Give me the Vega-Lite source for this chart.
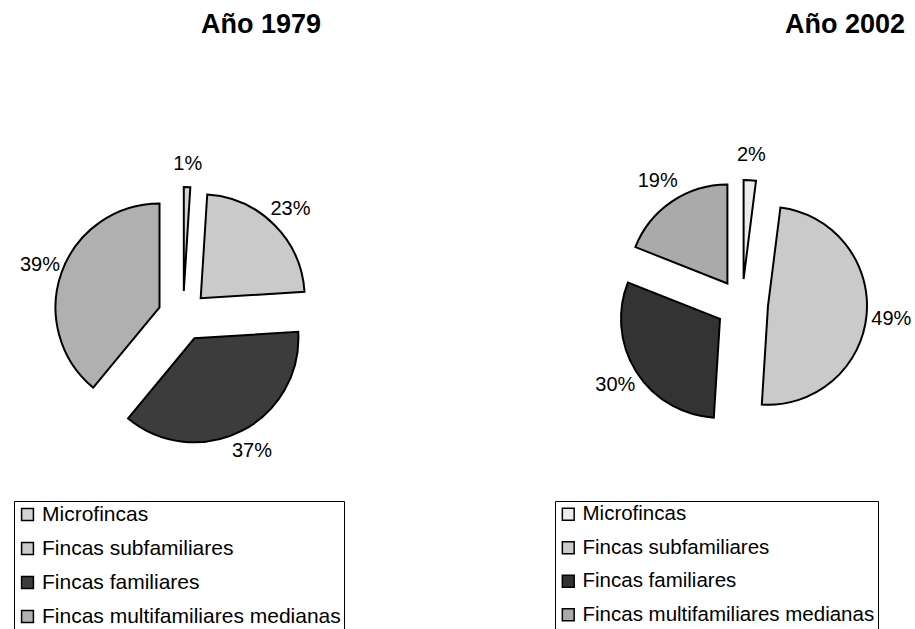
{
  "$schema": "https://vega.github.io/schema/vega-lite/v6.json",
  "padding": {"left": 13, "top": 11, "right": 0, "bottom": 0},
  "background": "white",
  "data": {
    "values": [
      {"anio": "1979", "cat": "Microfincas", "pct": 1, "etiqueta": "1%", "orden": 1},
      {"anio": "1979", "cat": "Fincas subfamiliares", "pct": 23, "etiqueta": "23%", "orden": 2},
      {"anio": "1979", "cat": "Fincas familiares", "pct": 37, "etiqueta": "37%", "orden": 3},
      {"anio": "1979", "cat": "Fincas multifamiliares medianas", "pct": 39, "etiqueta": "39%", "orden": 4},
      {"anio": "2002", "cat": "Microfincas", "pct": 2, "etiqueta": "2%", "orden": 1},
      {"anio": "2002", "cat": "Fincas subfamiliares", "pct": 49, "etiqueta": "49%", "orden": 2},
      {"anio": "2002", "cat": "Fincas familiares", "pct": 30, "etiqueta": "30%", "orden": 3},
      {"anio": "2002", "cat": "Fincas multifamiliares medianas", "pct": 19, "etiqueta": "19%", "orden": 4}
    ]
  },
  "spacing": 202,
  "resolve": {"scale": {"color": "independent", "theta": "independent"}, "legend": {"color": "independent"}},
  "hconcat": [
    {
      "width": 338,
      "height": 512,
      "title": {"text": "Año 1979", "dx": 78, "anchor": "middle"},
      "transform": [
        {"filter": "datum.anio == '1979'"},
        {"stack": "pct", "groupby": ["anio"], "sort": [{"field": "orden", "order": "ascending"}], "as": ["s0", "s1"]}
      ],
      "encoding": {
        "color": {
          "field": "cat",
          "type": "nominal",
          "scale": {
            "domain": ["Microfincas", "Fincas subfamiliares", "Fincas familiares", "Fincas multifamiliares medianas"],
            "range": ["#d4d4d4", "#cacaca", "#3c3c3c", "#b0b0b0"]
          },
          "legend": {
            "orient": "none", "legendX": 0, "legendY": 441, "title": null,
            "symbolType": "square", "symbolSize": 140, "symbolStrokeColor": "black", "symbolStrokeWidth": 1.5,
            "labelFontSize": 21, "labelFont": "Liberation Sans", "labelColor": "black", "labelOffset": 4,
            "labelLimit": 0, "rowPadding": 12, "padding": 3, "strokeColor": "black", "fillColor": "white"
          }
        }
      },
      "layer": [
        {
          "transform": [{"filter": "datum.orden == 1"}],
          "mark": {"type": "arc", "outerRadius": 104, "stroke": "black", "strokeWidth": 2, "xOffset": 0.8, "yOffset": -25},
          "encoding": {
            "theta": {"field": "s0", "type": "quantitative", "scale": {"domain": [0, 100]}},
            "theta2": {"field": "s1"}
          }
        },
        {
          "transform": [{"filter": "datum.orden == 2"}],
          "mark": {"type": "arc", "outerRadius": 104, "stroke": "black", "strokeWidth": 2, "xOffset": 17.7, "yOffset": -17.7},
          "encoding": {
            "theta": {"field": "s0", "type": "quantitative", "scale": {"domain": [0, 100]}},
            "theta2": {"field": "s1"}
          }
        },
        {
          "transform": [{"filter": "datum.orden == 3"}],
          "mark": {"type": "arc", "outerRadius": 104, "stroke": "black", "strokeWidth": 2, "xOffset": 11.4, "yOffset": 22.3},
          "encoding": {
            "theta": {"field": "s0", "type": "quantitative", "scale": {"domain": [0, 100]}},
            "theta2": {"field": "s1"}
          }
        },
        {
          "transform": [{"filter": "datum.orden == 4"}],
          "mark": {"type": "arc", "outerRadius": 104, "stroke": "black", "strokeWidth": 2, "xOffset": -23.5, "yOffset": -8.5},
          "encoding": {
            "theta": {"field": "s0", "type": "quantitative", "scale": {"domain": [0, 100]}},
            "theta2": {"field": "s1"}
          }
        },
        {
          "mark": {"type": "text", "radius": 152, "fontSize": 20, "font": "Liberation Sans"},
          "encoding": {
            "theta": {"field": "pct", "type": "quantitative", "stack": true, "scale": {"domain": [0, 100]}},
            "order": {"field": "orden", "type": "quantitative"},
            "color": {"value": "black"},
            "text": {"field": "etiqueta", "type": "nominal"}
          }
        }
      ]
    },
    {
      "width": 374,
      "height": 490,
      "title": {"text": "Año 2002", "dx": 103, "anchor": "middle"},
      "transform": [
        {"filter": "datum.anio == '2002'"},
        {"stack": "pct", "groupby": ["anio"], "sort": [{"field": "orden", "order": "ascending"}], "as": ["s0", "s1"]}
      ],
      "encoding": {
        "color": {
          "field": "cat",
          "type": "nominal",
          "scale": {
            "domain": ["Microfincas", "Fincas subfamiliares", "Fincas familiares", "Fincas multifamiliares medianas"],
            "range": ["#ececec", "#cacaca", "#333333", "#aaaaaa"]
          },
          "legend": {
            "orient": "none", "legendX": 0, "legendY": 441, "title": null,
            "symbolType": "square", "symbolSize": 140, "symbolStrokeColor": "black", "symbolStrokeWidth": 1.5,
            "labelFontSize": 20.5, "labelFont": "Liberation Sans", "labelColor": "black", "labelOffset": 4,
            "labelLimit": 0, "rowPadding": 12.5, "padding": 3, "strokeColor": "black", "fillColor": "white"
          }
        }
      },
      "layer": [
        {
          "transform": [{"filter": "datum.orden == 1"}],
          "mark": {"type": "arc", "outerRadius": 99, "stroke": "black", "strokeWidth": 2, "xOffset": 1.6, "yOffset": -26},
          "encoding": {
            "theta": {"field": "s0", "type": "quantitative", "scale": {"domain": [0, 100]}},
            "theta2": {"field": "s1"}
          }
        },
        {
          "transform": [{"filter": "datum.orden == 2"}],
          "mark": {"type": "arc", "outerRadius": 99, "stroke": "black", "strokeWidth": 2, "xOffset": 26, "yOffset": 0.8},
          "encoding": {
            "theta": {"field": "s0", "type": "quantitative", "scale": {"domain": [0, 100]}},
            "theta2": {"field": "s1"}
          }
        },
        {
          "transform": [{"filter": "datum.orden == 3"}],
          "mark": {"type": "arc", "outerRadius": 99, "stroke": "black", "strokeWidth": 2, "xOffset": -22, "yOffset": 13.9},
          "encoding": {
            "theta": {"field": "s0", "type": "quantitative", "scale": {"domain": [0, 100]}},
            "theta2": {"field": "s1"}
          }
        },
        {
          "transform": [{"filter": "datum.orden == 4"}],
          "mark": {"type": "arc", "outerRadius": 99, "stroke": "black", "strokeWidth": 2, "xOffset": -14.6, "yOffset": -21.5},
          "encoding": {
            "theta": {"field": "s0", "type": "quantitative", "scale": {"domain": [0, 100]}},
            "theta2": {"field": "s1"}
          }
        },
        {
          "mark": {"type": "text", "radius": 150, "fontSize": 20, "font": "Liberation Sans"},
          "encoding": {
            "theta": {"field": "pct", "type": "quantitative", "stack": true, "scale": {"domain": [0, 100]}},
            "order": {"field": "orden", "type": "quantitative"},
            "color": {"value": "black"},
            "text": {"field": "etiqueta", "type": "nominal"}
          }
        }
      ]
    }
  ],
  "config": {
    "font": "Liberation Sans",
    "view": {"stroke": null},
    "title": {"fontSize": 27, "fontWeight": "bold", "color": "black", "font": "Liberation Sans", "offset": 21}
  }
}
